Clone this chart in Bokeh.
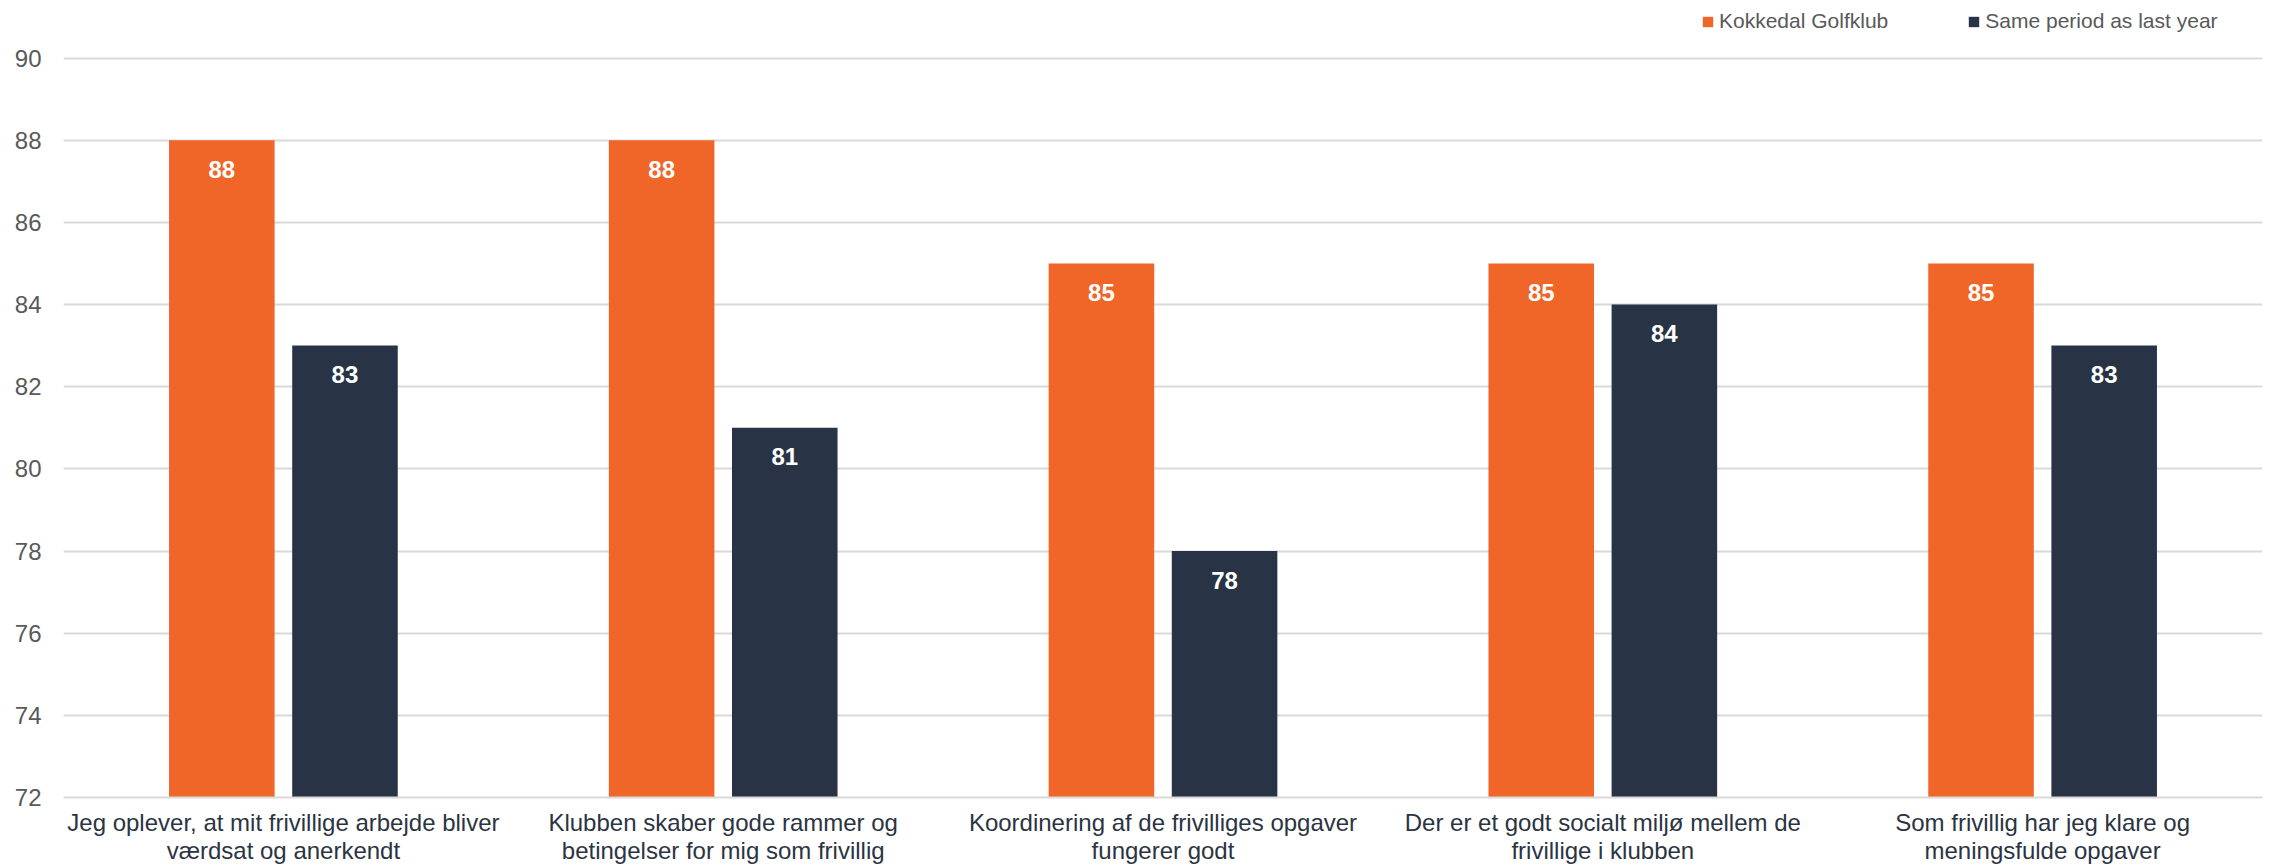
from bokeh.plotting import figure
from bokeh.models import FactorRange, Legend, LegendItem, ColumnDataSource, Range1d, FixedTicker
from bokeh.transform import dodge
from bokeh.embed import file_html
from bokeh.resources import INLINE
from bokeh.core.properties import value

categories = [
    "Jeg oplever, at mit frivillige arbejde bliver\nværdsat og anerkendt",
    "Klubben skaber gode rammer og\nbetingelser for mig som frivillig",
    "Koordinering af de frivilliges opgaver\nfungerer godt",
    "Der er et godt socialt miljø mellem de\nfrivillige i klubben",
    "Som frivillig har jeg klare og\nmeningsfulde opgaver",
]
club = [88, 88, 85, 85, 85]
last_year = [83, 81, 78, 84, 83]
series_names = ["Kokkedal Golfklub", "Same period as last year"]
y_ticks = [72, 74, 76, 78, 80, 82, 84, 86, 88, 90]

ORANGE = "#EF6628"
NAVY = "#283445"
FONT = "Liberation Sans"

source = ColumnDataSource(dict(
    cat=categories,
    club=club,
    last=last_year,
    club_lbl=[str(v) for v in club],
    last_lbl=[str(v) for v in last_year],
))

# frame spans to the top edge so the legend (drawn in the frame) is not clipped;
# the axis range is extended above the top tick to keep 90 at the reference position
p = figure(
    width=2269, height=867,
    x_range=FactorRange(*categories),
    y_range=Range1d(72, 91.40),
    output_backend="svg", toolbar_location=None,
    min_border_left=63, min_border_right=7, min_border_top=0, min_border_bottom=70,
)
p.outline_line_color = None
p.background_fill_color = "white"

r1 = p.vbar(x=dodge("cat", -0.14, range=p.x_range), top="club", bottom=y_ticks[0],
            width=0.24, source=source, fill_color=ORANGE, line_color=None)
r2 = p.vbar(x=dodge("cat", 0.14, range=p.x_range), top="last", bottom=y_ticks[0],
            width=0.24, source=source, fill_color=NAVY, line_color=None)

for col, ycol, off in (("club_lbl", "club", -0.14), ("last_lbl", "last", 0.14)):
    p.text(x=dodge("cat", off, range=p.x_range), y=ycol, text=col, source=source,
           text_align="center", text_baseline="middle", y_offset=29,
           text_color="white", text_font=value(FONT), text_font_style="bold",
           text_font_size="24px")

p.xgrid.grid_line_color = None
p.ygrid.grid_line_color = "#D9D9D9"
p.ygrid.grid_line_width = 2
p.yaxis.ticker = FixedTicker(ticks=y_ticks)

p.yaxis.axis_line_color = None
p.yaxis.major_tick_line_color = None
p.yaxis.minor_tick_line_color = None
p.yaxis.major_label_text_font = FONT
p.yaxis.major_label_text_font_size = "24px"
p.yaxis.major_label_text_color = "#595959"
p.yaxis.major_label_standoff = 16

p.xaxis.axis_line_color = "#D9D9D9"
p.xaxis.axis_line_width = 2
p.xaxis.major_tick_line_color = None
p.xaxis.minor_tick_line_color = None
p.xaxis.major_label_text_font = FONT
p.xaxis.major_label_text_font_size = "24px"
p.xaxis.major_label_text_color = "#2B3442"
p.xaxis.major_label_text_line_height = 1.07
p.xaxis.major_label_standoff = 5

legend = Legend(
    items=[LegendItem(label=series_names[0], renderers=[r1]),
           LegendItem(label=series_names[1], renderers=[r2])],
    orientation="horizontal", location=(1638, 764),
    padding=0, margin=0, spacing=79, label_standoff=5,
    glyph_width=13, glyph_height=13, label_height=20,
    label_text_font=FONT, label_text_font_size="21px", label_text_color="#595959",
    border_line_color=None, background_fill_alpha=0,
)
p.add_layout(legend, "center")

open("out.html", "w").write(file_html(p, INLINE))
